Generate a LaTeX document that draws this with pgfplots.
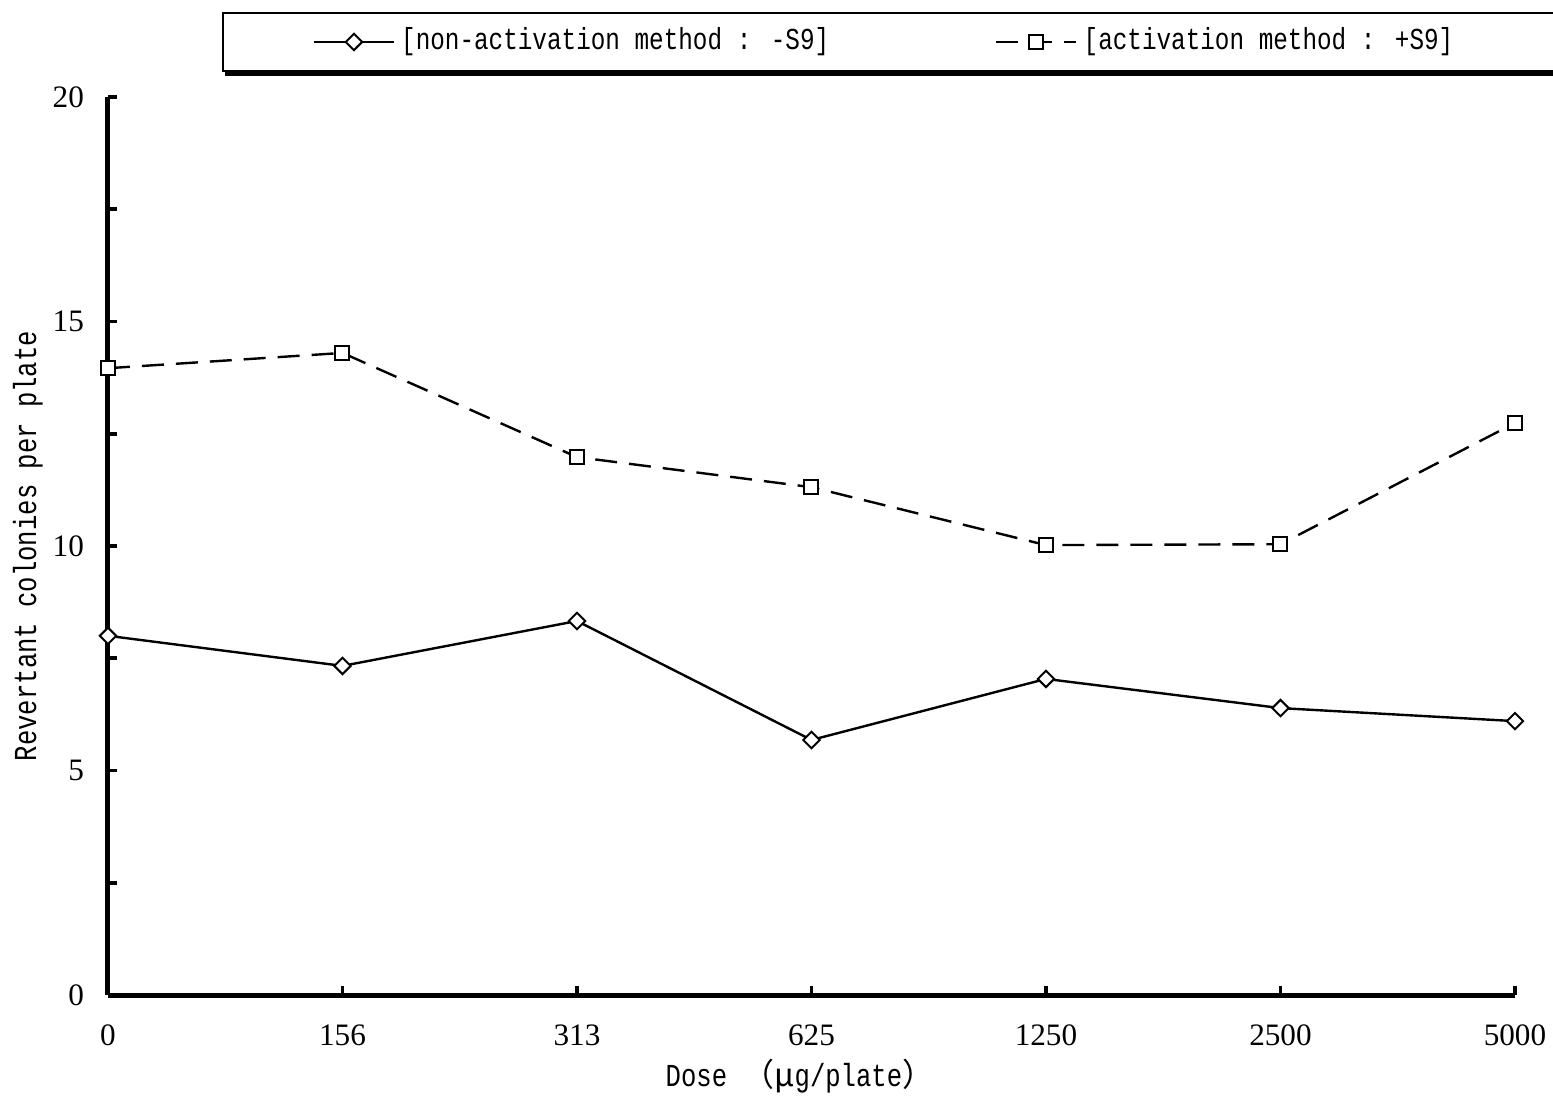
\documentclass[border=0pt]{standalone}
\usepackage{fontspec}
\setmainfont{Liberation Serif}
\newfontfamily\labfont[FakeStretch=0.8]{Liberation Mono}
\newfontfamily\cjk{Noto Sans CJK JP}
\usepackage{pgfplots}
\pgfplotsset{compat=1.18}

% non-activation (-S9) and activation (+S9), dose index 0..6
\pgfplotstableread{
idx minus plus
0   8.00  13.96
1   7.33  14.30
2   8.33  11.98
3   5.68  11.31
4   7.04  10.02
5   6.39  10.04
6   6.10  12.74
}\amesdata

\begin{document}
\begin{tikzpicture}[x=0.25pt,y=0.25pt]
\useasboundingbox (0,0) rectangle (1553,1095);
\begin{axis}[
    at={(108*0.25pt,100*0.25pt)}, anchor=south west,
    scale only axis,
    width=351.75pt, height=224.5pt,
    xmin=0, xmax=6, ymin=0, ymax=20,
    axis x line*=bottom, axis y line*=left,
    axis line style={line width=1.25pt, -},
    tick align=inside,
    major tick length=2.2pt, minor tick length=2.2pt,
    every tick/.style={line width=0.9pt, black},
    xtick={0,1,2,3,4,5,6},
    xticklabels={0,156,313,625,1250,2500,5000},
    ytick={0,5,10,15,20},
    minor y tick num=1,
    tick label style={font=\fontsize{7.8pt}{8pt}\selectfont},
    /pgf/number format/assume math mode=true,
    yticklabel style={xshift=-2.5pt},
    xticklabel style={yshift=-4pt},
    xlabel={\labfont Dose {\cjk （μ}g/plate{\cjk ）}},
    ylabel={\labfont Revertant colonies per plate},
    every axis x label/.style={at={(axis description cs:0.4918,-0.0902)}, anchor=center, font=\fontsize{8pt}{9pt}\selectfont},
    every axis y label/.style={at={(axis description cs:-0.0569,0.5)}, rotate=90, anchor=center, font=\fontsize{8pt}{9pt}\selectfont},
    legend columns=2,
    legend style={
        name=leg,
        at={(axis description cs:0.081,1.0947)}, anchor=north west,
        draw=black, line width=0.4pt, fill=white,
        inner xsep=22.5pt, inner ysep=2.3pt,
        font=\labfont\fontsize{7.6pt}{8pt}\selectfont,
        /tikz/every even column/.append style={column sep=40pt},
        nodes={inner sep=1.5pt},
    },
    legend image code/.code={
        \draw[mark repeat=2, mark phase=2, #1] plot coordinates {(0pt,0pt) (10pt,0pt) (20pt,0pt)};
    },
    clip=false,
]
\addplot[black, line width=0.6pt, mark=square*, mark size=1.45pt,
    mark options={solid, fill=white, rotate=45, line width=0.5pt}]
    table[x=idx, y=minus] {\amesdata};
\addlegendentry{\relax[non-activation method : -S9]}
\addplot[black, line width=0.6pt, dash pattern=on 5.5pt off 3pt, mark=square*, mark size=1.75pt,
    mark options={solid, fill=white, line width=0.5pt}]
    table[x=idx, y=plus] {\amesdata};
\addlegendentry{\relax[activation method : +S9]\hspace*{14pt}}
\end{axis}
% shadow under the legend box
\fill[black] ([xshift=0.8pt]leg.south west) rectangle ([xshift=0.8pt,yshift=-0.9pt]leg.south east);
\fill[black] ([yshift=-0.9pt]leg.south east) rectangle ([xshift=0.8pt,yshift=-0.8pt]leg.north east);
\end{tikzpicture}
\end{document}
